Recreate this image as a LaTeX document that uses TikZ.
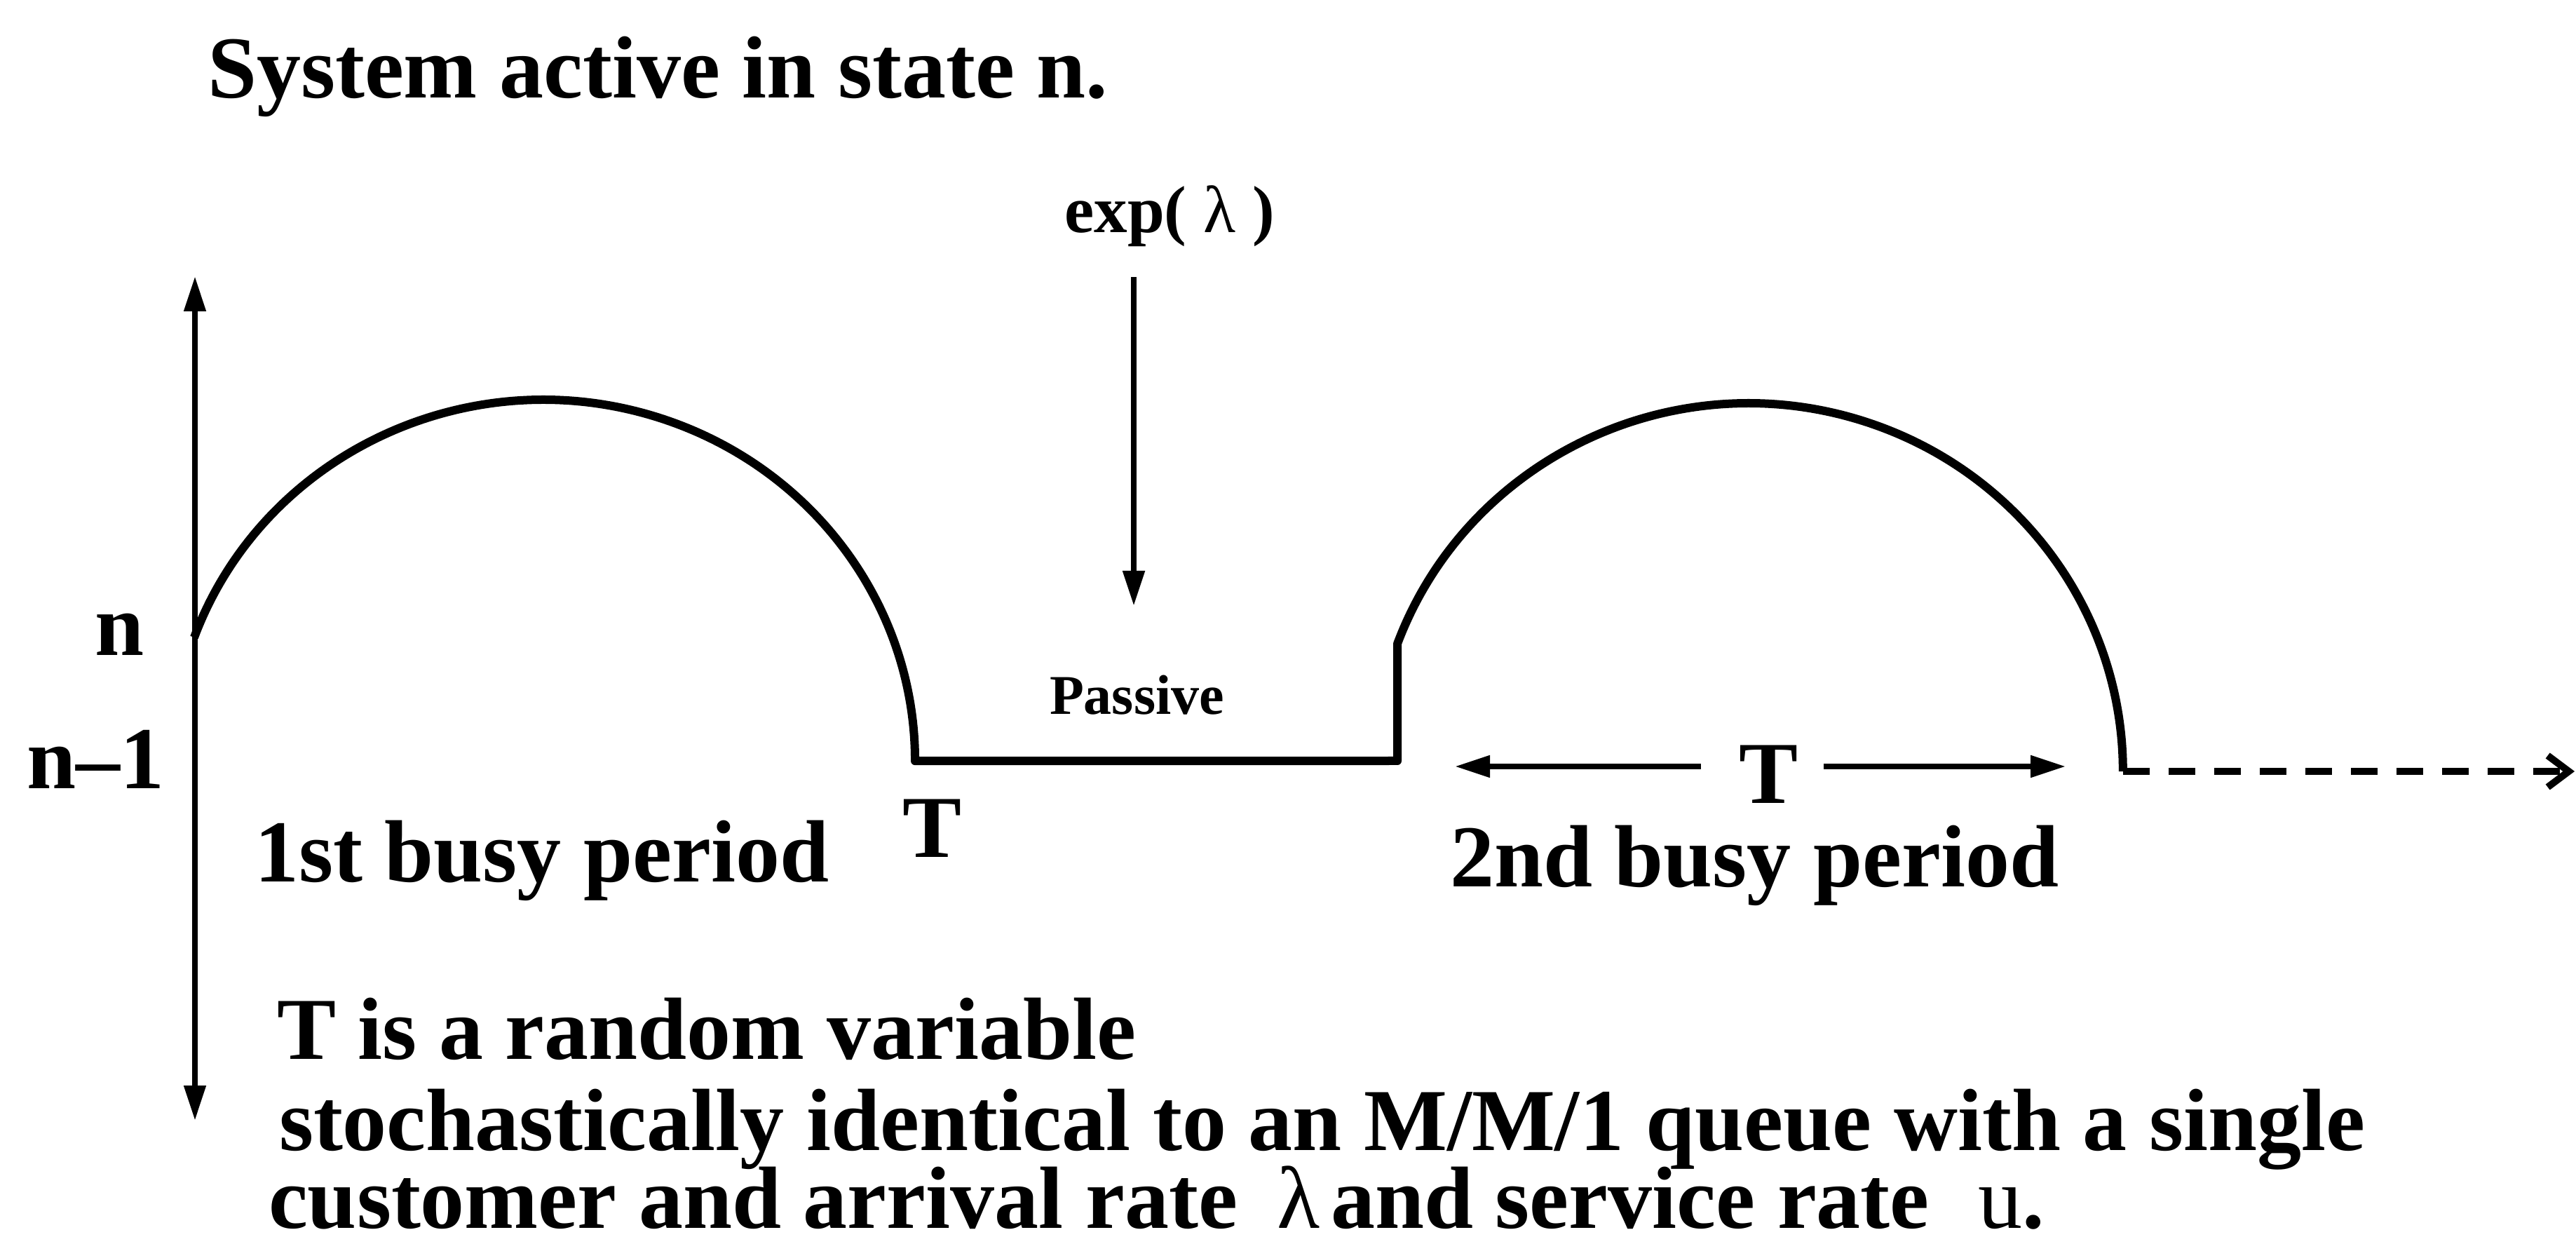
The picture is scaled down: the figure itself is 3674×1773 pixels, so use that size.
\documentclass[tikz,border=0pt]{standalone}
\usepackage{fontspec}
\setmainfont{Liberation Serif}
\usetikzlibrary{arrows.meta}
\begin{document}
\begin{tikzpicture}[x=0.2pt, y=0.2pt,
  curve/.style={line width=2.4pt, line join=round},
  tipA/.style={line width=1.6pt},
  big/.style={font=\fontsize{25.2}{30}\selectfont\bfseries, inner sep=0pt},
  small/.style={font=\fontsize{16}{19}\selectfont\bfseries, inner sep=0pt},
  mid/.style={font=\fontsize{19}{22}\selectfont\bfseries, inner sep=0pt}]
\useasboundingbox (0,0) rectangle (3674,1773);

% axis
\coordinate (axtop) at (278,1379);
\coordinate (axbot) at (278,175);
\draw[tipA, {Triangle[length=10pt,width=6pt]}-{Triangle[length=10pt,width=6pt]}] (axbot) -- (axtop);

% busy-period curve
\coordinate (a1s) at (277,864);
\coordinate (flatR) at (1993,688);
\coordinate (a2s) at (1993,855);
\coordinate (a2e) at (3028,673);
\coordinate (dashE) at (3672,673);
\draw[curve] (a1s) arc[start angle=160, end angle=0, x radius=530, y radius=515]
  -- (flatR) -- (a2s) arc[start angle=159.7, end angle=0, x radius=534, y radius=525];
\draw[line width=2pt, dash pattern=on 7.5pt off 5.5pt, -{Straight Barb[length=6pt,width=9pt]}] (a2e) -- (dashE);

% exp arrow
\node[mid, anchor=base] (exp) at (1668,1441) {exp( {\mdseries λ} )};
\coordinate (expS) at (1617,1378);
\coordinate (expE) at (1617,909);
\draw[tipA, -{Triangle[length=10pt,width=6pt]}] (expS) -- (expE);
\node[small, anchor=base west] (passive) at (1496,754) {Passive};

% labels
\node[big, anchor=base west] (title) at (295,1633) {System active in state n.};
\node[big, anchor=base east] (nlab) at (207,838) {n};
\node[big, anchor=base east] (n1lab) at (236,648) {n--1};
\node[big, anchor=base west] (busy1) at (362,516) {1st busy period};
\node[big, anchor=base] (T1) at (1329,550) {T};
\node[big, anchor=base] (T2) at (2522,628) {T};
\node[big, anchor=base west] (busy2) at (2067,509) {2nd busy period};

% T arrows
\coordinate (TlS) at (2426,680);
\coordinate (TlE) at (2075,680);
\coordinate (TrS) at (2601,680);
\coordinate (TrE) at (2946,680);
\draw[tipA, -{Triangle[length=10pt,width=6pt]}] (TlS) -- (TlE);
\draw[tipA, -{Triangle[length=10pt,width=6pt]}] (TrS) -- (TrE);

% bottom text
\node[big, anchor=base west] (l1) at (394,263) {T is a random variable};
\node[big, anchor=base west] (l2) at (397,133) {stochastically identical to an M/M/1 queue with a single};
\node[big, anchor=base west] (l3) at (382,22) {customer and arrival rate\hspace{0.45em}{\mdseries λ}\hspace{0.12em}and service rate\hspace{0.55em}{\mdseries u}.};
\end{tikzpicture}
\end{document}
